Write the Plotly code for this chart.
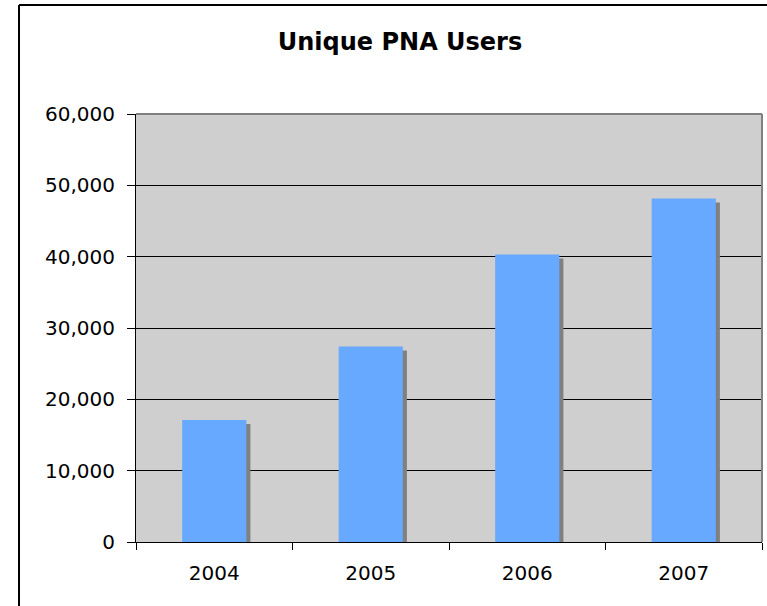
import plotly.graph_objects as go

# Unique PNA users per year
years = ["2004", "2005", "2006", "2007"]
users = [17100, 27400, 40300, 48150]
y_ticks = [0, 10000, 20000, 30000, 40000, 50000, 60000]
y_tick_text = ["0", "10,000", "20,000", "30,000", "40,000", "50,000", "60,000"]

BAR_BLUE = "#66A9FF"
SHADOW = "#808080"
PLOT_BG = "#CFCFCF"
FONT = "DejaVu Sans, Verdana, sans-serif"

bar_w = 0.41
shadow_dx = 0.026      # horizontal shift of the drop shadow (category units)
shadow_dy = 560        # vertical drop of the shadow (value units)

fig = go.Figure()

# drop shadow: same bars, shifted right and down
fig.add_trace(go.Bar(
    x=years, y=users, base=[-shadow_dy] * len(users),
    width=bar_w, offset=-bar_w / 2 + shadow_dx,
    marker=dict(color=SHADOW, line=dict(width=0)),
    hoverinfo="skip", showlegend=False,
))
fig.add_trace(go.Bar(
    x=years, y=users,
    width=bar_w, offset=-bar_w / 2,
    marker=dict(color=BAR_BLUE, line=dict(width=0)),
    showlegend=False, name="Unique PNA Users",
))

W, H = 767, 606
ml, mr, mt, mb = 136, 5, 114, 64
pw, ph = W - ml - mr, H - mt - mb

def px_x(px):
    return (px - ml) / pw

def px_y(py):
    return 1 - (py - mt) / ph

shapes = [
    # gray frame on the top and right of the plot area
    dict(type="line", xref="paper", yref="paper", x0=0, x1=1, y0=1, y1=1,
         line=dict(color="#808080", width=2), layer="above"),
    dict(type="line", xref="paper", yref="paper", x0=1, x1=1, y0=0, y1=1,
         line=dict(color="#808080", width=2), layer="above"),
    # outer chart frame
    dict(type="line", xref="paper", yref="paper",
         x0=px_x(19), x1=px_x(19), y0=px_y(5), y1=px_y(H + 20),
         line=dict(color="#000000", width=2), layer="above"),
    dict(type="line", xref="paper", yref="paper",
         x0=px_x(19), x1=px_x(W + 20), y0=px_y(5), y1=px_y(5),
         line=dict(color="#000000", width=2), layer="above"),
]

fig.update_layout(
    width=W, height=H,
    margin=dict(l=ml, r=mr, t=mt, b=mb, pad=0),
    paper_bgcolor="white",
    plot_bgcolor=PLOT_BG,
    barmode="overlay",
    font=dict(family=FONT, size=20, color="#000000"),
    title=dict(
        text="<b>Unique PNA Users</b>",
        font=dict(family=FONT, size=24, color="#000000"),
        x=400 / W, xanchor="center", xref="container",
        y=1 - 41.5 / H, yanchor="middle", yref="container",
    ),
    xaxis=dict(
        type="category",
        range=[-0.5, 3.5],
        showgrid=False,
        showline=True, linecolor="#000000", linewidth=1,
        ticks="outside", tickson="boundaries", ticklen=7,
        tickcolor="#000000", tickwidth=1,
        tickfont=dict(family=FONT, size=20),
        ticklabelstandoff=13,
        zeroline=False,
    ),
    yaxis=dict(
        range=[0, 60000],
        tickvals=y_ticks, ticktext=y_tick_text,
        showgrid=True, gridcolor="#000000", gridwidth=1,
        showline=True, linecolor="#000000", linewidth=1,
        ticks="outside", ticklen=8, tickcolor="#000000", tickwidth=1,
        tickfont=dict(family=FONT, size=20),
        ticklabelstandoff=8,
        zeroline=False,
    ),
    shapes=shapes,
)

fig.write_html("out.html")
